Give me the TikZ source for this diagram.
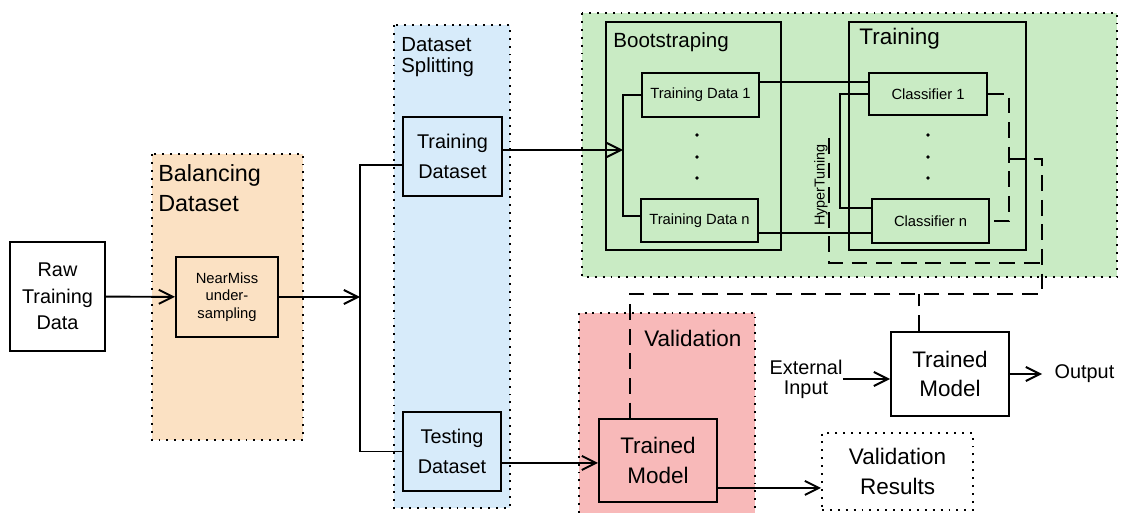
\documentclass[tikz,border=0pt]{standalone}
\usepackage{fontspec}
\setmainfont{Liberation Sans}
\usetikzlibrary{arrows.meta,positioning}
\definecolor{balorange}{HTML}{FBE1C3}
\definecolor{splitblue}{HTML}{D7EBFA}
\definecolor{traingreen}{HTML}{C9EBC4}
\definecolor{valred}{HTML}{F8B9B9}

\begin{document}
\begin{tikzpicture}[x=0.02cm,y=-0.02cm,
  box/.style={draw,line width=1.1pt,align=center,inner sep=1pt},
  region/.style={line width=1.1pt,dash pattern=on 1.1pt off 3.4pt},
  wire/.style={line width=1.1pt},
  arr/.style={line width=1.1pt,-{Straight Barb[length=8pt,width=8pt]}},
  dashline/.style={line width=1.1pt,dash pattern=on 9pt off 5pt},
  bigfont/.style={font=\fontsize{12.8}{17}\selectfont},
  midfont/.style={font=\fontsize{11.3}{17}\selectfont},
  smallfont/.style={font=\fontsize{8.4}{10}\selectfont}]
  \useasboundingbox (0,0) rectangle (1121,513);

  % coloured stages
  \draw[region,fill=balorange] (152,154) rectangle (303,440);
  \draw[region,fill=splitblue] (394,25) rectangle (510,508);
  \draw[region,fill=traingreen] (582,13) rectangle (1117,277);
  \fill[valred] (579,313) rectangle (755,513);
  \draw[region] (579,513) -- (579,313) -- (755,313) -- (755,513);
  \draw[wire] (606,22) rectangle (781,250);
  \draw[wire] (849,22) rectangle (1026,250);

  \node[anchor=north west,inner sep=0pt,align=left,font=\fontsize{13.3}{17}\selectfont] (ballabel) at (158,164) {Balancing\\Dataset};
  \node[anchor=north west,inner sep=0pt,align=left,font=\fontsize{11.6}{12}\selectfont] (splitlabel) at (401,37) {Dataset\\Splitting};
  \node[anchor=north west,inner sep=0pt,font=\fontsize{11.7}{14}\selectfont] (bootlabel) at (613,32) {Bootstraping};
  \node[anchor=north west,inner sep=0pt,font=\fontsize{12.8}{14}\selectfont] (trainlabel) at (859,28) {Training};
  \node[anchor=north west,inner sep=0pt,bigfont] (vallabel) at (644,330) {Validation};
  \node[rotate=90,inner sep=0pt,font=\fontsize{8.2}{10}\selectfont] (hyplabel) at (821,185) {HyperTuning};

  % boxes
  \node[box,fill=white,font=\fontsize{11.3}{15}\selectfont,minimum width=1.9cm,minimum height=2.18cm] (raw) at (57.5,296.5) {Raw\\Training\\Data};
  \node[box,smallfont,minimum width=2.04cm,minimum height=1.6cm] (nearmiss) at (227,297) {NearMiss\\under-\\sampling};
  \node[box,midfont,minimum width=1.98cm,minimum height=1.58cm] (trainds) at (452.5,156.5) {Training\\Dataset};
  \node[box,midfont,minimum width=1.96cm,minimum height=1.58cm] (testds) at (452,451.5) {Testing\\Dataset};
  \node[box,smallfont,minimum width=2.34cm,minimum height=0.88cm] (td1) at (700.5,95) {Training Data 1};
  \node[box,smallfont,minimum width=2.34cm,minimum height=0.86cm] (tdn) at (699.5,220.5) {Training Data n};
  \node[box,smallfont,minimum width=2.36cm,minimum height=0.84cm] (cl1) at (928,94) {Classifier 1};
  \node[box,smallfont,minimum width=2.34cm,minimum height=0.88cm] (cln) at (930.5,221) {Classifier n};
  \node[box,bigfont,minimum width=2.36cm,minimum height=1.66cm] (valmodel) at (658,460.5) {Trained\\Model};
  \node[region,draw,align=center,bigfont,minimum width=3.02cm,minimum height=1.54cm] (valres) at (897.5,471.5) {Validation\\Results};
  \node[box,fill=white,bigfont,minimum width=2.36cm,minimum height=1.68cm] (model) at (950,374) {Trained\\Model};
  \node[inner sep=0pt,align=center,font=\fontsize{11.3}{11.5}\selectfont] (extin) at (806,379) {External\\Input};
  \node[anchor=west,inner xsep=7pt,inner ysep=0pt,midfont] (output) at (1042,374) {Output};

  \foreach \y in {135,157,178} {
    \fill (697,\y) circle (1.1pt);
    \fill (928,\y) circle (1.1pt);
  }

  % solid flow
  \coordinate (split) at (360,297);
  \coordinate (fan) at (623,150);
  \coordinate (tune) at (840,150);
  \draw[arr] (raw) -- (nearmiss);
  \draw[arr] (nearmiss) -- (split);
  \draw[wire] ([yshift=-4.8pt]trainds.west) -| (split) |- (testds.west);
  \draw[arr] ([yshift=3.7pt]trainds.east) coordinate (tsout) -- (tsout -| fan);
  \draw[wire] (td1.west) -| (fan) |- ([yshift=2.5pt]tdn.west);
  \draw[wire] ([yshift=7.4pt]td1.east) coordinate (t1out) -- (t1out -| cl1.west);
  \draw[wire] ([yshift=-7.1pt]tdn.east) coordinate (tnout) -- (tnout -| cln.west);
  \draw[wire] (cl1.west) -| (tune) |- ([yshift=7.4pt]cln.west);
  \draw[arr] ([yshift=-6.5pt]testds.east) coordinate (teout) -- (teout -| valmodel.west);
  \draw[arr] ([yshift=-15.6pt]valmodel.east) coordinate (vmout) -- (vmout -| valres.west);
  \draw[arr] (extin.east) -- (extin.east -| model.west);
  \draw[arr] (model.east) -- (output.west);

  % dashed feedback
  \coordinate (gather) at (1009,159);
  \coordinate (drop) at (1042,159);
  \coordinate (feed) at (1042,294);
  \coordinate (tunetop) at (829,138);
  \coordinate (tunebot) at (1042,263);
  \coordinate (tap) at ([xshift=-17.5pt]model.north);
  \draw[dashline] (cl1.east) -| (gather) |- (cln.east);
  \draw[dashline] (gather) -- (drop) -- (feed) -| ([xshift=-16pt]valmodel.north);
  \draw[dashline] (tunetop) |- (tunebot);
  \draw[dashline] (tap) -- (tap |- feed);
\end{tikzpicture}
\end{document}
